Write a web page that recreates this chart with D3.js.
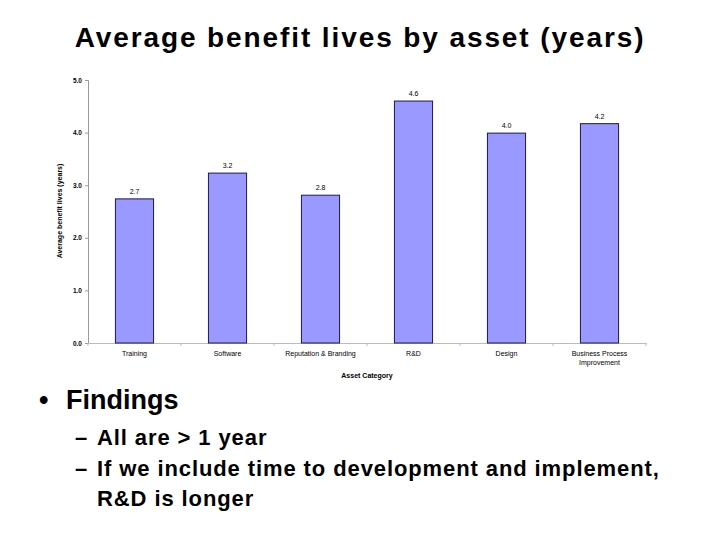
<!DOCTYPE html>
<html><head><meta charset="utf-8">
<script src="https://cdn.jsdelivr.net/npm/d3@7"></script>
<style>body{margin:0;background:#fff;} svg{display:block;}</style>
</head><body>
<svg id="c" width="720" height="540"></svg>
<script>
const categories = ["Training","Software","Reputation & Branding","R&D","Design","Business Process|Improvement"];
const values = [2.74, 3.23, 2.81, 4.6, 3.99, 4.17];
const valueLabels = ["2.7","3.2","2.8","4.6","4.0","4.2"];
const yTicks = [0,1,2,3,4,5];

const svg = d3.select("#c");
const F = "Liberation Sans, Arial, sans-serif";

svg.append("text").attr("x",360).attr("y",47).attr("text-anchor","middle")
  .attr("font-family",F).attr("font-weight","bold").attr("font-size",28).attr("letter-spacing",1.9)
  .text("Average benefit lives by asset (years)");

const x = d3.scaleBand().domain(categories).range([88,646]).paddingInner(0.59).paddingOuter(0.295);
const y = d3.scaleLinear().domain([0,5]).range([343,80]);

const g = svg.append("g");
// y axis
const ya = g.append("g").attr("transform","translate(88,0)")
  .call(d3.axisLeft(y).tickValues(yTicks).tickFormat(d3.format(".1f")).tickSize(3));
ya.select(".domain").attr("stroke","#999");
ya.selectAll(".tick line").attr("stroke","#999");
ya.selectAll(".tick text").attr("font-family",F).attr("font-size",6.5).attr("fill","#000").attr("font-weight","bold");

// x axis
const xa = g.append("g").attr("transform","translate(0,343)")
  .call(d3.axisBottom(x).tickSize(0).tickFormat(""));
xa.select(".domain").attr("stroke","#bbb");
const step = x.step();
g.selectAll(".xt").data(d3.range(categories.length+1)).join("line")
  .attr("x1",i=>88+i*step).attr("x2",i=>88+i*step).attr("y1",343).attr("y2",346).attr("stroke","#bbb");

categories.forEach(c=>{
  const lines = c.split("|");
  const t = g.append("text").attr("text-anchor","middle").attr("font-family",F).attr("font-size",7).attr("fill","#000");
  lines.forEach((l,i)=>t.append("tspan").attr("x",x(c)+x.bandwidth()/2).attr("y",356+i*8.5).text(l));
});

g.selectAll(".bar").data(values).join("rect")
  .attr("x",(d,i)=>x(categories[i])).attr("y",d=>y(d))
  .attr("width",x.bandwidth()).attr("height",d=>y(0)-y(d))
  .attr("fill","#9999ff").attr("stroke","#1a1a4a").attr("stroke-width",1);

g.selectAll(".vl").data(values).join("text")
  .attr("x",(d,i)=>x(categories[i])+x.bandwidth()/2).attr("y",d=>y(d)-5)
  .attr("text-anchor","middle").attr("font-family",F).attr("font-size",7).text((d,i)=>valueLabels[i]);

g.append("text").attr("x",367).attr("y",378).attr("text-anchor","middle").attr("font-family",F)
  .attr("font-weight","bold").attr("font-size",7).text("Asset Category");
g.append("text").attr("transform","translate(62,211) rotate(-90)").attr("text-anchor","middle").attr("font-family",F)
  .attr("font-weight","bold").attr("font-size",7).text("Average benefit lives (years)");

const tx = svg.append("g").attr("font-family",F).attr("font-weight","bold").attr("fill","#000");
tx.append("text").attr("x",39).attr("y",409).attr("font-size",27).text("•");
tx.append("text").attr("x",66).attr("y",409).attr("font-size",27).text("Findings");
const sub = [["–","All are > 1 year",445],["–","If we include time to development and implement,",476],[null,"R&D is longer",506]];
sub.forEach(([d,t,yy])=>{
  if(d) tx.append("text").attr("x",75).attr("y",yy).attr("font-size",22).text(d);
  tx.append("text").attr("x",97).attr("y",yy).attr("font-size",22).attr("letter-spacing",0.9).text(t);
});
</script>
</body></html>
